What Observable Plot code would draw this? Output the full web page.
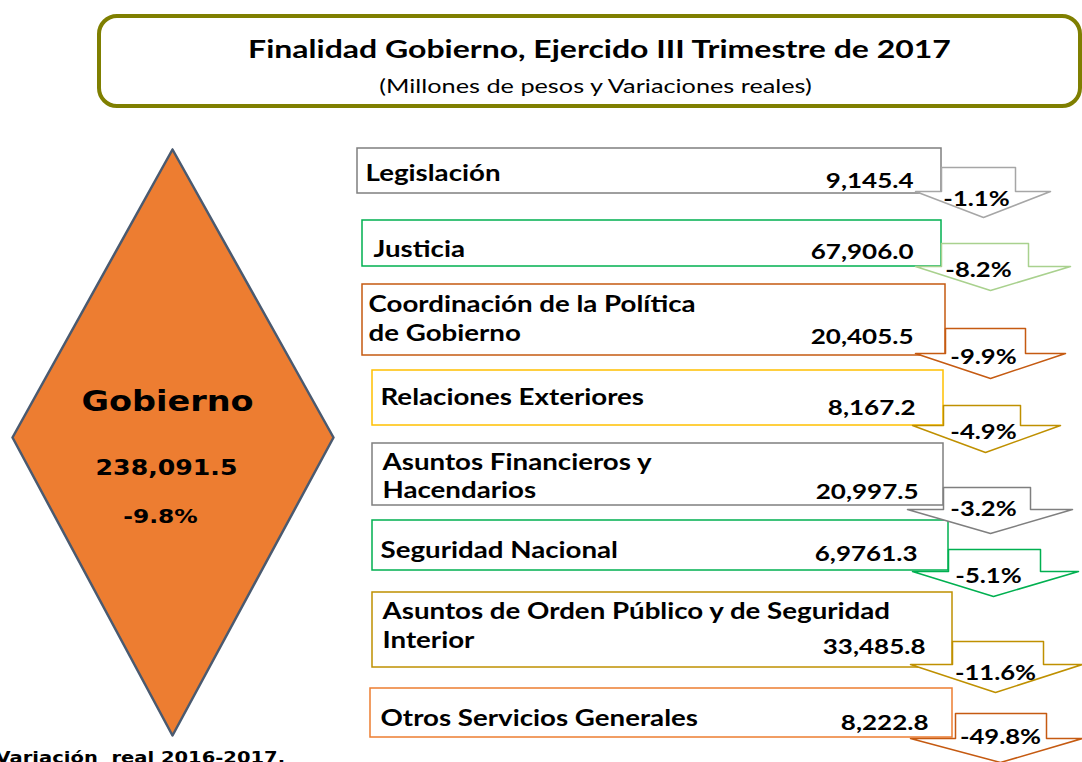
<!DOCTYPE html>
<html>
<head>
<meta charset="utf-8">
<script src="https://cdn.jsdelivr.net/npm/d3@7"></script>
<script src="https://cdn.jsdelivr.net/npm/@observablehq/plot@0.6"></script>
<style>
  html, body { margin: 0; padding: 0; background: #ffffff; }
  #chart svg { display: block; }
</style>
</head>
<body>
<div id="chart"></div>
<script>
// ---------- Data ----------
const titleText = "Finalidad Gobierno, Ejercido III Trimestre de 2017";
const subtitleText = "(Millones de pesos y Variaciones reales)";
const totalLabel = "Gobierno";
const totalValue = "238,091.5";
const totalVariation = "-9.8%";
const noteText = "Variación  real 2016-2017.";

const categories = [
  ["Legislación"],
  ["Justicia"],
  ["Coordinación de la Política", "de Gobierno"],
  ["Relaciones Exteriores"],
  ["Asuntos Financieros y", "Hacendarios"],
  ["Seguridad Nacional"],
  ["Asuntos de Orden Público y de Seguridad", "Interior"],
  ["Otros Servicios Generales"]
];
const values = ["9,145.4", "67,906.0", "20,405.5", "8,167.2", "20,997.5", "6,9761.3", "33,485.8", "8,222.8"];
const variations = ["-1.1%", "-8.2%", "-9.9%", "-4.9%", "-3.2%", "-5.1%", "-11.6%", "-49.8%"];

// ---------- Styles ----------
const boxColors   = ["#7F7F7F", "#00B050", "#C55A11", "#FFC000", "#7F7F7F", "#00B050", "#BF9000", "#ED7D31"];
const arrowColors = ["#A6A6A6", "#A9D18E", "#C55A11", "#BF9000", "#7F7F7F", "#00B050", "#BF9000", "#C55A11"];

// ---------- Layout (diagram geometry, pixels) ----------
const boxLayout = [
  {box: [357, 941, 148, 193], lx: 365, ly: [173], vx: 913, vy: 181},
  {box: [362, 941, 220, 266], lx: 373, ly: [249], vx: 913, vy: 252},
  {box: [362, 945, 284, 355], lx: 368, ly: [304, 333], vx: 913, vy: 337},
  {box: [372, 943, 370, 425], lx: 380, ly: [397], vx: 915, vy: 408},
  {box: [372, 943, 443, 505], lx: 382, ly: [462, 490], vx: 918, vy: 492},
  {box: [372, 948, 520, 570], lx: 380, ly: [550], vx: 917, vy: 554},
  {box: [372, 952, 592, 667], lx: 382, ly: [611, 640], vx: 925, vy: 647},
  {box: [370, 952, 688, 737], lx: 380, ly: [718], vx: 928, vy: 723}
];
// shaft x1, shaft x2, shaft top, head base y, head x1, head x2, tip x, tip y, label x, label y
const arrowLayout = [
  [941, 1015, 167, 191, 915, 1050, 983, 217, 976, 199],
  [941, 1028, 243, 266, 915, 1070, 990, 290, 978, 270],
  [945, 1025, 328, 353, 915, 1065, 990, 378, 983, 357],
  [943, 1020, 405, 425, 912, 1060, 985, 452, 983, 432],
  [943, 1030, 487, 509, 907, 1072, 990, 533, 983, 509],
  [948, 1040, 549, 571, 912, 1078, 993, 596, 988, 576],
  [952, 1043, 641, 664, 910, 1082, 995, 692, 995, 673],
  [955, 1046, 713, 738, 910, 1082, 1000, 762, 1000, 737]
];
const diamondLayout = {top: [172, 149], right: [333, 437], bottom: [172, 735], left: [12, 437]};
// horizontal stretch applied to each text mark, in mark order
const textStretch = [1.28, 1.33, 1.22, 1.2, 1.17, 1.26, 1.23, 1.3, 1.22];

// ---------- Derived tables ----------
const boxes = categories.map((c, i) => ({
  i, x1: boxLayout[i].box[0], x2: boxLayout[i].box[1], y1: boxLayout[i].box[2], y2: boxLayout[i].box[3],
  color: boxColors[i]
}));
const labelRows = categories.flatMap((lines, i) => lines.map((t, k) => ({text: t, x: boxLayout[i].lx, y: boxLayout[i].ly[k]})));
const valueRows = values.map((v, i) => ({text: v, x: boxLayout[i].vx, y: boxLayout[i].vy}));
const arrowPts = arrowLayout.flatMap((a, i) => {
  const [sx1, sx2, top, hb, hx1, hx2, tx, ty] = a;
  const pts = [[sx1, top], [sx2, top], [sx2, hb], [hx2, hb], [tx, ty], [hx1, hb], [sx1, hb], [sx1, top]];
  return pts.map(([x, y]) => ({i, x, y, color: arrowColors[i]}));
});
const pctRows = variations.map((v, i) => ({text: v, x: arrowLayout[i][8], y: arrowLayout[i][9]}));
const d = diamondLayout;
const diamondPts = [d.top, d.right, d.bottom, d.left, d.top].map(([x, y]) => ({x, y}));

const W = 1082, H = 762;

const chart = Plot.plot({
  width: W, height: H,
  margin: 0, marginTop: 0, marginRight: 0, marginBottom: 0, marginLeft: 0,
  x: {domain: [0, W], range: [0, W], axis: null},
  y: {domain: [0, H], range: [0, H], axis: null},
  style: {background: "#ffffff"},
  marks: [
    Plot.rect([{}], {x1: () => 99, x2: () => 1080, y1: () => 16, y2: () => 106, rx: 18,
      fill: "white", stroke: "#7F7F00", strokeWidth: 4}),
    Plot.text([titleText], {x: () => 599, y: () => 49, text: t => t, fontFamily: "Lato", fontWeight: "bold",
      fontSize: 25, fill: "#000"}),
    Plot.text([subtitleText], {x: () => 595, y: () => 86, text: t => t, fontFamily: "Lato",
      fontSize: 19, fill: "#000"}),
    Plot.line(diamondPts, {x: "x", y: "y", fill: "#ED7D31", stroke: "#4A5A70", strokeWidth: 2.5, curve: "linear"}),
    Plot.text([totalLabel], {x: () => 167, y: () => 402, text: t => t, fontFamily: "DejaVu Sans", fontWeight: "bold", fontSize: 27.5, fill: "#000"}),
    Plot.text([totalValue], {x: () => 166, y: () => 468, text: t => t, fontFamily: "DejaVu Sans", fontWeight: "bold", fontSize: 21, fill: "#000"}),
    Plot.text([totalVariation], {x: () => 160, y: () => 516, text: t => t, fontFamily: "DejaVu Sans", fontWeight: "bold", fontSize: 20, fill: "#000"}),
    Plot.text([noteText], {x: () => -5, y: () => 758, text: t => t, textAnchor: "start", fontFamily: "DejaVu Sans", fontWeight: "bold", fontSize: 15.5, fill: "#000"}),
    Plot.rect(boxes, {x1: "x1", x2: "x2", y1: "y1", y2: "y2", fill: "white", stroke: "color", strokeWidth: 1.5}),
    Plot.line(arrowPts, {x: "x", y: "y", z: "i", fill: "white", stroke: "color", strokeWidth: 1.5, curve: "linear"}),
    Plot.text(labelRows, {x: "x", y: "y", text: "text", textAnchor: "start", fontFamily: "Lato", fontWeight: "bold", fontSize: 22.5, fill: "#000"}),
    Plot.text(valueRows, {x: "x", y: "y", text: "text", textAnchor: "end", fontFamily: "Lato", fontWeight: "bold", fontSize: 20, fill: "#000"}),
    Plot.text(pctRows, {x: "x", y: "y", text: "text", fontFamily: "Lato", fontWeight: "bold", fontSize: 21, fill: "#000"})
  ]
});

// stretch text horizontally about each anchor point (reference typography is wide)
const groups = chart.querySelectorAll('g[aria-label="text"]');
groups.forEach((g, gi) => {
  const s = textStretch[gi] ?? 1;
  g.querySelectorAll("text").forEach(t => {
    const tr = t.getAttribute("transform");
    if (tr && tr.includes("translate")) {
      t.setAttribute("transform", tr + ` scale(${s},1)`);
    } else {
      const x = +t.getAttribute("x") || 0, y = +t.getAttribute("y") || 0;
      t.removeAttribute("x"); t.removeAttribute("y");
      t.setAttribute("transform", `translate(${x},${y}) scale(${s},1)` + (tr ? " " + tr : ""));
    }
  });
});
document.getElementById("chart").appendChild(chart);
</script>
</body>
</html>
